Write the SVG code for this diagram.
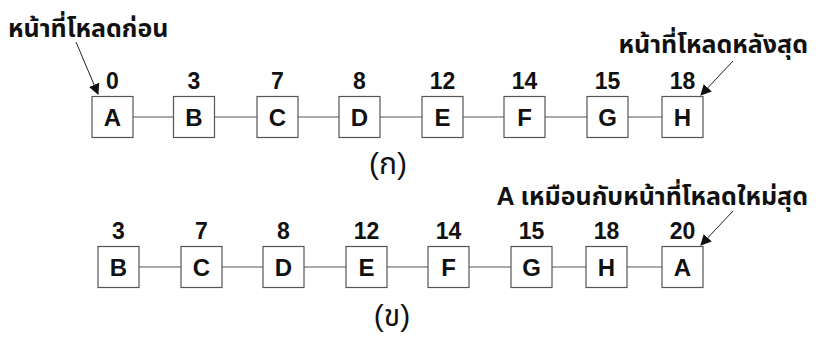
<svg xmlns="http://www.w3.org/2000/svg" width="826" height="338" viewBox="0 0 826 338">
  <style>
    .box { fill: #ffffff; stroke: #555555; stroke-width: 1.2; }
    .link { stroke: #555555; stroke-width: 1; fill: none; }
    .ptr { stroke: #222222; stroke-width: 1; fill: none; marker-end: url(#head); }
    .key { font-family: "Liberation Sans", Arial, sans-serif; font-weight: bold; font-size: 24px; fill: #111111; text-anchor: middle; }
    .num { font-family: "Liberation Sans", Arial, sans-serif; font-weight: bold; font-size: 23px; fill: #111111; text-anchor: middle; }
    .note { font-family: "Liberation Sans", "Noto Sans Thai", Tahoma, sans-serif; font-weight: bold; font-size: 25px; fill: #111111; }
    .cap { font-family: "Liberation Sans", "Noto Sans Thai", Tahoma, sans-serif; font-size: 30px; fill: #111111; text-anchor: middle; }
  </style>
  <defs>
    <marker id="head" viewBox="0 0 10 10" refX="9" refY="5" markerWidth="11" markerHeight="11" orient="auto" markerUnits="userSpaceOnUse">
      <path d="M0,0 L10,5 L0,10 z" fill="#111111"/>
    </marker>
  </defs>

  <rect width="826" height="338" fill="#ffffff"/>

  <!-- connectors: list links and pointer arrows -->
  <g id="connectors">
    <path class="link" d="M133,117 H173 M215,117 H257 M298,117 H339 M380,117 H422 M463,117 H504 M545,117 H587 M628,117 H662"/>
    <path class="link" d="M139,267 H181 M222,267 H263 M304,267 H346 M387,267 H428 M469,267 H511 M552,267 H586 M627,267 H662"/>
    <line class="ptr" x1="76" y1="42" x2="98" y2="94"/>
    <line class="ptr" x1="733" y1="61" x2="701" y2="95"/>
    <line class="ptr" x1="733" y1="211" x2="701" y2="245"/>
  </g>

  <!-- (ก) list before access -->
  <g id="a0"><rect class="box" x="92" y="96.5" width="41" height="41"/><text class="num" x="112.5" y="89">0</text><text class="key" x="112.5" y="126">A</text></g>
  <g id="b3"><rect class="box" x="173.5" y="96.5" width="41" height="41"/><text class="num" x="194" y="89">3</text><text class="key" x="194" y="126">B</text></g>
  <g id="c7"><rect class="box" x="257" y="96.5" width="41" height="41"/><text class="num" x="277.5" y="89">7</text><text class="key" x="277.5" y="126">C</text></g>
  <g id="d8"><rect class="box" x="339" y="96.5" width="41" height="41"/><text class="num" x="359.5" y="89">8</text><text class="key" x="359.5" y="126">D</text></g>
  <g id="e12"><rect class="box" x="422" y="96.5" width="41" height="41"/><text class="num" x="442.5" y="89">12</text><text class="key" x="442.5" y="126">E</text></g>
  <g id="f14"><rect class="box" x="504" y="96.5" width="41" height="41"/><text class="num" x="524.5" y="89">14</text><text class="key" x="524.5" y="126">F</text></g>
  <g id="g15"><rect class="box" x="587" y="96.5" width="41" height="41"/><text class="num" x="607.5" y="89">15</text><text class="key" x="607.5" y="126">G</text></g>
  <g id="h18"><rect class="box" x="662" y="96.5" width="41" height="41"/><text class="num" x="682.5" y="89">18</text><text class="key" x="682.5" y="126">H</text></g>

  <!-- (ข) list after access -->
  <g id="b3-2"><rect class="box" x="98" y="246.5" width="41" height="41"/><text class="num" x="118.5" y="239">3</text><text class="key" x="118.5" y="276">B</text></g>
  <g id="c7-2"><rect class="box" x="181" y="246.5" width="41" height="41"/><text class="num" x="201.5" y="239">7</text><text class="key" x="201.5" y="276">C</text></g>
  <g id="d8-2"><rect class="box" x="263" y="246.5" width="41" height="41"/><text class="num" x="283.5" y="239">8</text><text class="key" x="283.5" y="276">D</text></g>
  <g id="e12-2"><rect class="box" x="346" y="246.5" width="41" height="41"/><text class="num" x="366.5" y="239">12</text><text class="key" x="366.5" y="276">E</text></g>
  <g id="f14-2"><rect class="box" x="428" y="246.5" width="41" height="41"/><text class="num" x="448.5" y="239">14</text><text class="key" x="448.5" y="276">F</text></g>
  <g id="g15-2"><rect class="box" x="511" y="246.5" width="41" height="41"/><text class="num" x="531.5" y="239">15</text><text class="key" x="531.5" y="276">G</text></g>
  <g id="h18-2"><rect class="box" x="586" y="246.5" width="41" height="41"/><text class="num" x="606.5" y="239">18</text><text class="key" x="606.5" y="276">H</text></g>
  <g id="a20"><rect class="box" x="662" y="246.5" width="41" height="41"/><text class="num" x="682.5" y="239">20</text><text class="key" x="682.5" y="276">A</text></g>

  <!-- notes and captions -->
  <g id="notes">
    <text class="note" x="8" y="37">หน้าที่โหลดก่อน</text>
    <text class="note" x="808" y="53" text-anchor="end">หน้าที่โหลดหลังสุด</text>
    <text class="note" x="808" y="205" text-anchor="end">A เหมือนกับหน้าที่โหลดใหม่สุด</text>
    <text class="cap" x="388" y="174">(ก)</text>
    <text class="cap" x="392" y="326">(ข)</text>
  </g>
</svg>
